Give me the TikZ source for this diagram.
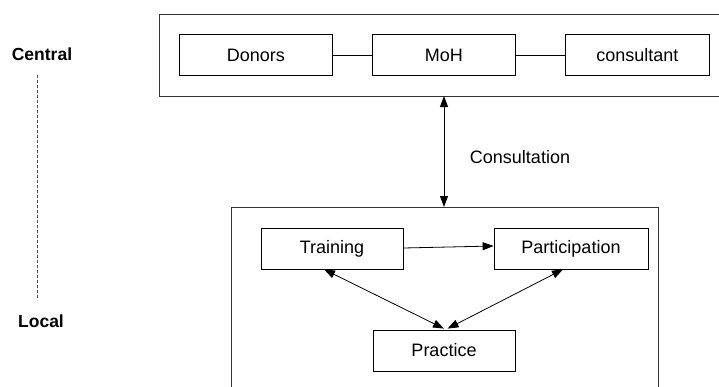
\documentclass[tikz,border=0pt]{standalone}
\usepackage{fontspec}
\setmainfont{Liberation Sans}
\usetikzlibrary{arrows.meta}
\begin{document}
\begin{tikzpicture}[x=1pt,y=-1pt,
  frame/.style={draw=black!80,line width=0.9pt},
  topbox/.style={draw=black,line width=0.8pt,minimum height=41pt,inner sep=0pt,font=\fontsize{18}{21}\selectfont},
  lowbox/.style={draw=black,line width=0.8pt,minimum height=41pt,inner sep=0pt,font=\fontsize{18}{21}\selectfont},
  link/.style={draw=black,line width=0.8pt},
  arr/.style={draw=black,line width=0.8pt,-{Triangle[length=11pt,width=8pt]}},
  darr/.style={draw=black,line width=0.8pt,{Triangle[length=11pt,width=8pt]}-{Triangle[length=11pt,width=8pt]}},
  level/.style={font=\bfseries\fontsize{17.5}{20}\selectfont}
]
\useasboundingbox (0,0) rectangle (719,386);
\fill[white] (0,0) rectangle (719,386);

% outer frames (open on right / bottom edge)
\path[frame] (725,14.3) -- (159.3,14.3) -- (159.3,96) -- (725,96);
\path[frame] (231,392) -- (231,207) -- (658,207) -- (658,392);
\coordinate (ctop) at (444,96);
\coordinate (cbot) at (444,207);

% central row
\node[topbox,minimum width=153pt] (donors) at (255.8,55) {Donors};
\node[topbox,minimum width=142.3pt] (moh) at (443.8,55) {MoH};
\node[topbox,minimum width=143.3pt] (cons) at (637.3,55) {consultant};
\path[link] (donors.east) -- (moh.west);
\path[link] (moh.east) -- (cons.west);

% consultation
\path[darr] (ctop) -- (cbot);
\node[font=\fontsize{18}{21}\selectfont] (clabel) at (520,157) {Consultation};

% local
\node[lowbox,minimum width=142pt] (train) at (332,248.5) {Training};
\node[lowbox,minimum width=154pt] (part) at (571,248.5) {Participation};
\node[lowbox,minimum width=142pt] (prac) at (444,350.5) {Practice};
\path[arr] ([yshift=0.5pt]train.east) -- ([yshift=2.5pt]part.west);
\path[darr] ([xshift=-8pt]train.south) -- ([xshift=0pt,yshift=1pt]prac.north);
\path[darr] ([xshift=-8pt]part.south) -- ([xshift=3.5pt,yshift=1pt]prac.north);

% levels
\node[level] (central) at (42,54) {Central};
\node[level] (local) at (41,321) {Local};
\path[draw=black!70,line width=0.6pt,dash pattern=on 3pt off 2pt] (37,75) -- (37,300);
\end{tikzpicture}
\end{document}
